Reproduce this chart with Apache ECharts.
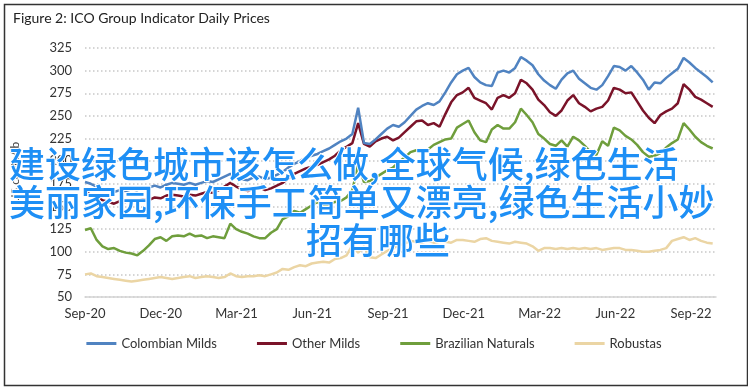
<!DOCTYPE html>
<html>
<head>
<meta charset="utf-8">
<script src="https://cdn.jsdelivr.net/npm/echarts@6/dist/echarts.min.js"></script>
<style>
html,body{margin:0;padding:0;background:#fff;}
#c{width:748px;height:387px;}
</style>
</head>
<body>
<div id="c"></div>
<script>
// Weekly observations starting 2020-09-01 (week index -> day offset 7*i)
var startDate = '2020-09-01';
var tickLabels = ['Sep-20','Dec-20','Mar-21','Jun-21','Sep-21','Dec-21','Mar-22','Jun-22','Sep-22'];
var seriesNames = ['Colombian Milds','Other Milds','Brazilian Naturals','Robustas'];

var colombianMilds = [177,175,172,170,168,166,168,167,169,168,170,171,173,171,174,176,175,174,176,174,
  176,178,177,180,183,186,182,180,179,182,183,180,182,185,188,193,197,200,204,206,
  208,211,214,218,222,225,230,259,220,219,224,230,236,240,238,243,250,257,261,264,
  262,266,276,287,296,300,303,293,287,284,283,298,300,298,303,315,311,306,296,289,
  284,280,290,297,300,291,286,281,279,284,294,305,304,300,305,298,290,279,287,286,
  292,297,302,314,309,303,298,293,287];
var otherMilds = [166,163,160,157,155,153,156,155,157,156,158,157,160,159,162,163,162,161,163,162,
  164,166,165,168,172,176,172,169,167,170,171,168,170,173,176,181,186,189,192,194,
  196,199,202,206,212,216,220,242,219,216,222,225,227,223,226,232,238,244,245,240,
  242,238,252,265,273,276,281,270,267,264,257,270,273,270,275,290,286,279,268,262,
  254,250,256,267,273,264,260,255,258,260,267,281,279,275,276,266,256,248,242,251,
  255,258,264,285,279,271,268,264,260];
var brazilianNaturals = [124,126,113,106,103,104,101,99,98,96,101,107,114,116,112,117,118,117,120,117,
  118,115,117,116,115,131,125,122,120,117,115,115,121,125,136,139,145,143,147,151,
  155,150,152,155,156,160,168,197,177,178,182,186,190,193,199,204,210,212,210,213,
  218,221,224,225,237,241,245,232,223,221,235,240,236,236,243,258,251,243,230,225,
  219,217,223,216,227,223,217,210,207,222,217,237,234,228,224,218,210,205,206,209,
  215,220,224,242,235,227,221,217,214];
var robustas = [75,76,73,72,71,70,69,68,67,68,69,70,71,72,71,70,71,72,73,71,
  72,73,72,71,72,76,73,72,73,73,74,73,75,77,81,80,83,85,84,87,
  88,89,88,92,93,96,107,99,106,94,93,97,101,104,107,109,112,111,110,112,
  110,111,111,110,113,113,112,111,114,115,112,111,110,109,111,110,109,106,101,104,
  104,103,104,103,104,103,104,103,104,102,103,104,104,102,102,101,100,100,101,102,
  104,112,114,116,113,115,112,110,109];

var overlayLines = ['建设绿色城市该怎么做,全球气候,绿色生活','美丽家园,环保手工简单又漂亮,绿色生活小妙','招有哪些'];

function pairs(arr){ return arr.map(function(v,i){ return [i*7, v]; }); }
var TICK = 91.25;

var chart = echarts.init(document.getElementById('c'), null, {renderer:'canvas'});
var font = 'Lato, "Liberation Sans", sans-serif';
var colors = ['#5083c1','#7a1329','#6f9e3c','#ebd5a4'];
var dataSets = [colombianMilds, otherMilds, brazilianNaturals, robustas];
var cjkFont = '500 36px "Noto Sans CJK SC"';

chart.setOption({
  animation:false,
  backgroundColor:'#ffffff',
  color:colors,
  title:{text:'Figure 2: ICO Group Indicator Daily Prices', left:8, top:6,
    textStyle:{fontFamily:font, fontSize:14, fontWeight:'normal', color:'#222'}},
  grid:{left:85, right:32, top:48, bottom:90},
  legend:{bottom:32, left:'center', itemWidth:30, itemHeight:3, itemGap:40, icon:'rect',
    textStyle:{fontFamily:font, fontSize:13, color:'#333'},
    data:seriesNames},
  xAxis:{type:'value', min:0, max:760, interval:TICK,
    axisLine:{show:true, lineStyle:{color:'#d4d4d4', width:1.5}},
    axisTick:{show:false}, splitLine:{show:false},
    axisLabel:{margin:10, fontFamily:font, fontSize:13, color:'#333',
      formatter:function(v){ var k=Math.round(v/TICK); return (Math.abs(v-k*TICK)<0.5 && tickLabels[k])?tickLabels[k]:''; }}},
  yAxis:{type:'value', min:50, max:325, interval:25,
    name:'US cents/lb', nameLocation:'middle', nameGap:64, nameRotate:90,
    nameTextStyle:{fontFamily:font, fontSize:12, color:'#444'},
    axisLine:{show:false}, axisTick:{show:false},
    axisLabel:{margin:13, fontFamily:font, fontSize:13, color:'#333'},
    splitLine:{lineStyle:{color:'#c8c8c8', width:1.5, type:[1.5,2.5]}}},
  series:dataSets.map(function(d,i){
    return {name:seriesNames[i], type:'line', data:pairs(d), showSymbol:false, symbol:'none',
      lineStyle:{width:2.5, color:colors[i]}, z:10-i};
  }),
  graphic:[
    {type:'rect', left:2, top:2, z:0, silent:true, shape:{width:743, height:381},
      style:{fill:'none', stroke:'#333', lineWidth:1.5}},
    {type:'text', left:8, top:145, z:200, style:{text:overlayLines[0], font:cjkFont, fill:'#1e8ff5', stroke:'#fff', lineWidth:2}},
    {type:'text', left:8, top:183, z:200, style:{text:overlayLines[1], font:cjkFont, fill:'#1e8ff5', stroke:'#fff', lineWidth:2}},
    {type:'text', left:305, top:221, z:200, style:{text:overlayLines[2], font:cjkFont, fill:'#1e8ff5', stroke:'#fff', lineWidth:2}}
  ]
});
</script>
</body>
</html>
